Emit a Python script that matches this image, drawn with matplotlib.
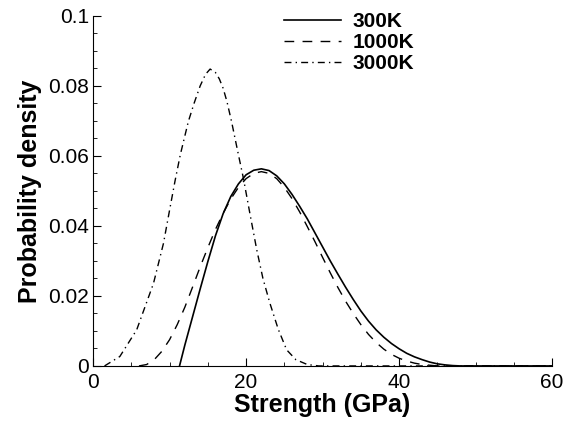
import matplotlib
matplotlib.use("Agg")
import matplotlib.pyplot as plt
from matplotlib.ticker import MultipleLocator, FuncFormatter

plt.rcParams['font.family'] = ['Liberation Sans', 'DejaVu Sans']

# Strength (GPa) vs probability density
x_300 = [11.3, 12.0, 13.0, 14.0, 15.0, 16.0, 17.0, 18.0, 19.0, 20.0, 21.0, 22.0, 23.0, 24.0,
         25.0, 26.0, 27.0, 28.0, 29.0, 30.0, 31.0, 32.0, 33.0, 34.0, 35.0, 36.0, 37.0, 38.0,
         39.0, 40.0, 41.0, 42.0, 43.0, 44.0, 45.0, 46.0, 47.0, 48.0, 60.0]
y_300 = [0.0, 0.0060, 0.0140, 0.0220, 0.0298, 0.0372, 0.0435, 0.0484, 0.0520, 0.0546, 0.0559, 0.0563, 0.0558, 0.0543,
         0.0520, 0.0490, 0.0456, 0.0420, 0.0380, 0.0340, 0.0300, 0.0262, 0.0225, 0.0190, 0.0157, 0.0128, 0.0103, 0.0082,
         0.0064, 0.0049, 0.0036, 0.0026, 0.0018, 0.0011, 0.0006, 0.0003, 0.0001, 0.0, 0.0]

x_1000 = [6.0, 7.0, 8.0, 9.0, 10.0, 11.0, 12.0, 13.0, 14.0, 15.0, 16.0, 17.0, 18.0, 19.0,
          20.0, 21.0, 22.0, 23.0, 24.0, 25.0, 26.0, 27.0, 28.0, 29.0, 30.0, 31.0, 32.0, 33.0,
          34.0, 35.0, 36.0, 37.0, 38.0, 39.0, 40.0, 41.0, 42.0, 43.0, 44.0, 45.0, 60.0]
y_1000 = [0.0, 0.0004, 0.0018, 0.0042, 0.0075, 0.0118, 0.0168, 0.0225, 0.0283, 0.0338, 0.0390, 0.0436, 0.0477, 0.0510,
          0.0535, 0.0550, 0.0555, 0.0550, 0.0535, 0.0510, 0.0478, 0.0440, 0.0398, 0.0355, 0.0310, 0.0266, 0.0224, 0.0185,
          0.0150, 0.0118, 0.0090, 0.0067, 0.0048, 0.0033, 0.0022, 0.0014, 0.0008, 0.0004, 0.0002, 0.0, 0.0]

x_3000 = [1.5, 3.5, 5.7, 7.9, 9.2, 10.0, 10.7, 11.4, 12.45, 13.2, 14.0, 14.7, 15.3, 16.0, 16.5,
          17.0, 17.5, 18.1, 19.0, 19.65, 20.5, 21.4, 22.2, 23.1, 24.2, 25.3, 26.5, 28.0, 29.5, 60.0]
y_3000 = [0.0, 0.0027, 0.0103, 0.0236, 0.0350, 0.0445, 0.0527, 0.0603, 0.0698, 0.0750, 0.0800, 0.0833, 0.0848, 0.0838, 0.0820,
          0.0793, 0.0755, 0.0698, 0.0603, 0.0536, 0.0435, 0.0331, 0.0250, 0.0180, 0.0105, 0.0046, 0.0018, 0.0004, 0.0, 0.0]

labels = ["300K", "1000K", "3000K"]

fig = plt.figure(figsize=(5.64, 4.28), dpi=100)
ax = fig.add_axes([0.165, 0.145, 0.814, 0.818])

ax.plot(x_300, y_300, color="black", lw=1.2, ls="-", label=labels[0])
ax.plot(x_1000, y_1000, color="black", lw=1.0, ls=(0, (7, 6)), label=labels[1])
ax.plot(x_3000, y_3000, color="black", lw=1.0, ls=(0, (5, 3, 1, 3)), label=labels[2])

ax.set_xlim(0, 60)
ax.set_ylim(0, 0.1)
ax.xaxis.set_major_locator(MultipleLocator(20))
ax.xaxis.set_minor_locator(MultipleLocator(5))
ax.yaxis.set_major_locator(MultipleLocator(0.02))
ax.yaxis.set_minor_locator(MultipleLocator(0.005))
ax.yaxis.set_major_formatter(FuncFormatter(lambda v, p: "0" if v == 0 else ("0.1" if abs(v - 0.1) < 1e-9 else f"{v:.2f}")))

ax.tick_params(which="both", direction="in", labelsize=15, colors="black")
ax.tick_params(which="major", length=6)
ax.tick_params(which="minor", length=3)
ax.tick_params(axis="x", pad=5)
ax.tick_params(axis="y", pad=3)
ax.spines["top"].set_visible(False)
ax.spines["right"].set_visible(False)

ax.set_xlabel("Strength (GPa)", fontsize=18, fontweight="bold", labelpad=1)
ax.set_ylabel("Probability density", fontsize=18, fontweight="bold", labelpad=4)

ax.legend(loc="upper left", bbox_to_anchor=(0.416, 1.011), frameon=False,
          handlelength=2.75, handletextpad=0.55, labelspacing=0.1,
          borderpad=0, borderaxespad=0,
          prop={"weight": "bold", "size": 15})

fig.savefig("out.png", dpi=100)
